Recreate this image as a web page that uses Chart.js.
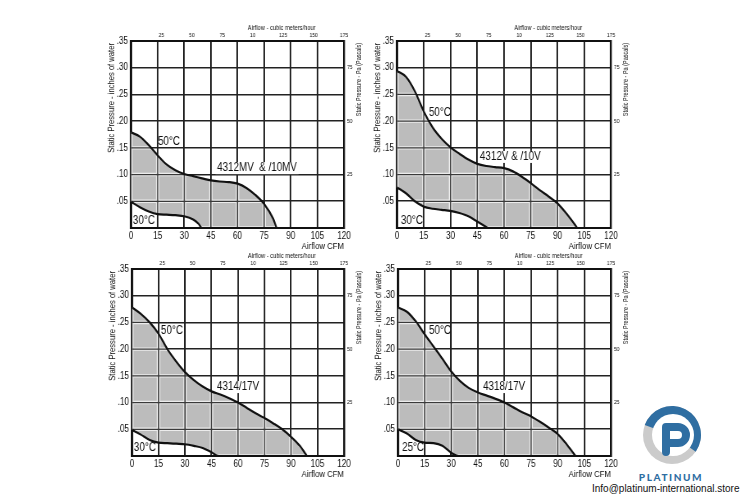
<!DOCTYPE html>
<html>
<head>
<meta charset="utf-8">
<title>Fan performance curves</title>
<script src="https://cdn.jsdelivr.net/npm/chart.js@4.4.1/dist/chart.umd.min.js"></script>
<style>
  html, body { margin: 0; padding: 0; background: #fff; }
  #page { position: relative; width: 750px; height: 500px; overflow: hidden; }
  #page canvas { position: absolute; transform-origin: 0 0; }
  #logo { position: absolute; left: 628px; top: 398px; }
  #brand { position: absolute; left: 630px; top: 471px; width: 82px; text-align: center;
           font: 900 10px Lato, "Noto Sans", sans-serif; letter-spacing: 1.6px; color: #2f6ea2; line-height: 12px; }
  #mail { position: absolute; left: 592px; top: 483px; font: 10px "Liberation Sans", Arial, sans-serif;
          color: #111; white-space: nowrap; line-height: 12px; }
</style>
</head>
<body>
<div id="page">
  <svg id="logo" width="90" height="72" viewBox="0 0 90 72">
    <circle cx="44" cy="37" r="29" fill="#cbcbcb"/>
    <path d="M44 37 L16.75 27.08 A29 29 0 1 1 67.75 53.64 Z" fill="#2f6ea2"/>
    <circle cx="45" cy="37" r="21" fill="#fff"/>
    <path d="M38 54 V29 H50 A8 8 0 0 1 50 45 H42" fill="none" stroke="#2f6ea2" stroke-width="8"
          stroke-linecap="round" stroke-linejoin="round"/>
  </svg>
  <div id="brand">PLATINUM</div>
  <div id="mail">Info@platinum-international.store</div>
</div>
<script>
const FONT = '"Liberation Sans", Arial, sans-serif';
const INK = '#111';
// the sheet uses a narrow face; each canvas is squeezed sideways by this much
const SX = 0.82;

// 4312MV & /10MV
const mvHotCfm = [0, 5, 10, 15, 20, 25, 30, 35, 40, 45, 50, 55, 60, 65, 70, 75, 80, 82];
const mvHotPress = [.179, .171, .155, .136, .119, .108, .101, .097, .093, .089, .087, .086, .083, .075, .062, .045, .018, 0];
const mvCoolCfm = [0, 5, 10, 15, 20, 25, 30, 35, 38, 40, 82];
const mvCoolPress = [.049, .039, .031, .026, .025, .024, .022, .016, .008, 0, 0];

// 4312V & /10V
const vHotCfm = [0, 5, 10, 15, 20, 25, 30, 35, 40, 45, 50, 55, 60, 65, 70, 75, 80, 85, 90, 95, 100, 101];
const vHotPress = [.294, .283, .256, .218, .188, .167, .151, .139, .128, .120, .116, .114, .112, .106, .096, .084, .071, .059, .046, .027, .005, 0];
const vCoolCfm = [0, 5, 10, 15, 20, 25, 30, 35, 40, 45, 50, 51, 101];
const vCoolPress = [.076, .065, .050, .040, .036, .034, .032, .028, .022, .012, .002, 0, 0];

// 4314/17V
const v14HotCfm = [0, 5, 10, 15, 20, 25, 30, 35, 40, 45, 50, 55, 60, 65, 70, 75, 80, 85, 90, 95, 99];
const v14HotPress = [.278, .266, .250, .229, .200, .177, .157, .142, .130, .121, .115, .108, .100, .090, .080, .071, .061, .050, .036, .019, 0];
const v14CoolCfm = [0, 5, 10, 15, 20, 25, 30, 35, 40, 45, 49, 99];
const v14CoolPress = [.049, .040, .030, .025, .024, .023, .022, .019, .015, .007, 0, 0];

// 4318/17V
const v18HotCfm = [0, 5, 10, 15, 20, 25, 30, 35, 40, 45, 50, 55, 60, 65, 70, 75, 80, 85, 90, 95, 100];
const v18HotPress = [.278, .270, .252, .228, .205, .182, .158, .140, .127, .119, .113, .107, .100, .091, .082, .074, .064, .053, .041, .022, 0];
const v18CoolCfm = [0, 5, 10, 15, 20, 25, 30, 34, 100];
const v18CoolPress = [.050, .042, .030, .025, .024, .019, .006, 0, 0];

const models = ['4312MV  & /10MV', '4312V & /10V', '4314/17V', '4318/17V'];
const hotTemps = ['50°C', '50°C', '50°C', '50°C'];
const coolTemps = ['30°C', '30°C', '30°C', '25°C'];
const pascalTicks = [25, 50, 75];

const panels = [
  { left: 131, top: 41, w: 213, h: 187, hot: [mvHotCfm, mvHotPress], cool: [mvCoolCfm, mvCoolPress],
    spots: [[15.2, .161], [48.5, .112], [1.1, .013]] },
  { left: 397, top: 41, w: 214, h: 187, hot: [vHotCfm, vHotPress], cool: [vCoolCfm, vCoolPress],
    spots: [[17.9, .215], [46.5, .133], [2.2, .013]] },
  { left: 132, top: 269, w: 212, h: 187, hot: [v14HotCfm, v14HotPress], cool: [v14CoolCfm, v14CoolPress],
    spots: [[16.4, .234], [48.1, .129], [1.1, .015]] },
  { left: 398, top: 269, w: 213, h: 187, hot: [v18HotCfm, v18HotPress], cool: [v18CoolCfm, v18CoolPress],
    spots: [[17.5, .234], [47.9, .129], [2.3, .015]] }
];

function pairs(xs, ys) {
  return xs.map((x, i) => ({ x: x, y: ys[i] }));
}

// vertical text: undo the sideways squeeze on glyph height, narrow it along its length
function upText(ctx, txt, x, y, size) {
  ctx.save();
  ctx.translate(x, y);
  ctx.scale(1 / SX, SX);
  ctx.rotate(-Math.PI / 2);
  ctx.font = size + 'px ' + FONT;
  ctx.textAlign = 'right';
  ctx.textBaseline = 'middle';
  ctx.fillText(txt, 0, 0);
  ctx.restore();
}

function gridPass(ctx, chart, color, width) {
  const xs = chart.scales.x, ys = chart.scales.y;
  const a = chart.chartArea;
  ctx.strokeStyle = color;
  ctx.lineWidth = width / SX;
  ctx.beginPath();
  xs.ticks.forEach(t => {
    const px = xs.getPixelForValue(t.value);
    ctx.moveTo(px, a.top);
    ctx.lineTo(px, a.bottom);
  });
  ctx.stroke();
  ctx.lineWidth = width;
  ctx.beginPath();
  ys.ticks.forEach(t => {
    const py = ys.getPixelForValue(t.value);
    ctx.moveTo(a.left, py);
    ctx.lineTo(a.right, py);
  });
  ctx.stroke();
}

// grid redrawn over the grey band, plus titles and curve labels
const overlay = {
  id: 'overlay',
  beforeDatasetsDraw(chart, args, opts) {
    // model name sits on a white patch that hides the grid
    const ctx = chart.ctx;
    const s = opts.spots[1];
    const px = chart.scales.x.getPixelForValue(s[0]);
    const py = chart.scales.y.getPixelForValue(s[1]);
    ctx.save();
    ctx.font = '12px ' + FONT;
    const tw = ctx.measureText(opts.texts[1]).width;
    ctx.fillStyle = '#fff';
    ctx.fillRect(px - 2, py - 6, tw + 4, 12);
    ctx.restore();
  },
  beforeDatasetDraw(chart, args) {
    if (args.index !== 0) return;
    const ctx = chart.ctx;
    const base = chart.scales.y.getPixelForValue(0);
    ctx.save();
    ctx.beginPath();
    [0, 1].forEach(i => {
      const line = chart.getDatasetMeta(i).dataset;
      const pts = line.points;
      line.path(ctx);
      ctx.lineTo(pts[pts.length - 1].x, base);
      ctx.lineTo(pts[0].x, base);
      ctx.closePath();
    });
    ctx.clip('evenodd');
    gridPass(ctx, chart, '#ececec', 3.4);
    gridPass(ctx, chart, '#3a3a3a', 1.2);
    ctx.restore();
  },
  afterDraw(chart, args, opts) {
    const ctx = chart.ctx;
    const a = chart.chartArea;
    ctx.save();
    ctx.fillStyle = INK;
    ctx.textBaseline = 'middle';

    ctx.font = '7px ' + FONT;
    ctx.textAlign = 'center';
    ctx.fillText('Airflow - cubic meters/hour', a.left + 0.707 * (a.right - a.left), a.top - 12.5);

    upText(ctx, 'Static Pressure - inches of water', a.left - 19 / SX, a.top + 2, 9.3);
    upText(ctx, 'Static Pressure - Pa (Pascals)', a.right + 15 / SX, a.top + 2, 6.7);

    ctx.font = '12px ' + FONT;
    ctx.textAlign = 'left';
    opts.texts.forEach((txt, i) => {
      const s = opts.spots[i];
      ctx.fillText(txt, chart.scales.x.getPixelForValue(s[0]), chart.scales.y.getPixelForValue(s[1]));
    });
    ctx.restore();
  }
};

const page = document.getElementById('page');

panels.forEach((p, i) => {
  const cw = Math.ceil((p.w + 49) / SX);
  const leftW = 25 / SX;
  const rightW = cw - leftW - p.w / SX;

  const cv = document.createElement('canvas');
  cv.width = cw;
  cv.height = p.h + 42;
  cv.style.left = (p.left - 25) + 'px';
  cv.style.top = (p.top - 18) + 'px';
  cv.style.transform = 'scaleX(' + SX + ')';
  page.appendChild(cv);

  new Chart(cv, {
    type: 'line',
    data: {
      datasets: [
        { data: pairs(p.hot[0], p.hot[1]), fill: '+1', backgroundColor: '#bcbcbc',
          borderColor: INK, borderWidth: 2.2, order: 1 },
        { data: pairs(p.cool[0], p.cool[1]), fill: false,
          borderColor: INK, borderWidth: 2.2, order: 0 }
      ]
    },
    options: {
      responsive: false,
      animation: false,
      layout: { padding: 0 },
      elements: {
        point: { radius: 0 },
        line: { cubicInterpolationMode: 'monotone' }
      },
      plugins: {
        legend: { display: false },
        tooltip: { enabled: false },
        overlay: { texts: [hotTemps[i], models[i], coolTemps[i]], spots: p.spots }
      },
      scales: {
        x: {
          type: 'linear', position: 'bottom', min: 0, max: 120,
          ticks: { stepSize: 15, padding: 2, color: INK, font: { family: FONT, size: 10 } },
          grid: { color: '#222', lineWidth: 1.6 / SX, drawTicks: false },
          border: { color: INK, width: 2 },
          title: { display: true, text: 'Airflow CFM', align: 'end', color: INK, padding: 0,
                   font: { family: FONT, size: 9.5 } },
          afterFit: s => { s.height = 24; }
        },
        x2: {
          type: 'linear', position: 'top', min: 0, max: 175,
          ticks: { stepSize: 25, padding: 2, color: INK, font: { family: FONT, size: 6 },
                   callback: v => v === 0 ? '' : (v === 100 ? '10' : v) },
          grid: { display: false, drawTicks: false },
          border: { color: INK, width: 2 },
          afterFit: s => { s.height = 18; }
        },
        y: {
          type: 'linear', position: 'left', min: 0, max: 0.35,
          ticks: { stepSize: 0.05, padding: 3 / SX, color: INK, font: { family: FONT, size: 10 },
                   callback: v => v === 0 ? '' : '.' + String(Math.round(v * 100)).padStart(2, '0') },
          grid: { color: '#222', lineWidth: 1.6, drawTicks: false },
          border: { color: INK, width: 2 / SX },
          afterFit: s => { s.width = leftW; }
        },
        y2: {
          type: 'linear', position: 'right', min: 0, max: 87.5,
          ticks: { stepSize: 25, padding: 3 / SX, color: INK, font: { family: FONT, size: 6 },
                   callback: v => pascalTicks.includes(v) ? v : '' },
          grid: { display: false, drawTicks: false },
          border: { color: INK, width: 2 / SX },
          afterFit: s => { s.width = rightW; }
        }
      }
    },
    plugins: [overlay]
  });
});
</script>
</body>
</html>
